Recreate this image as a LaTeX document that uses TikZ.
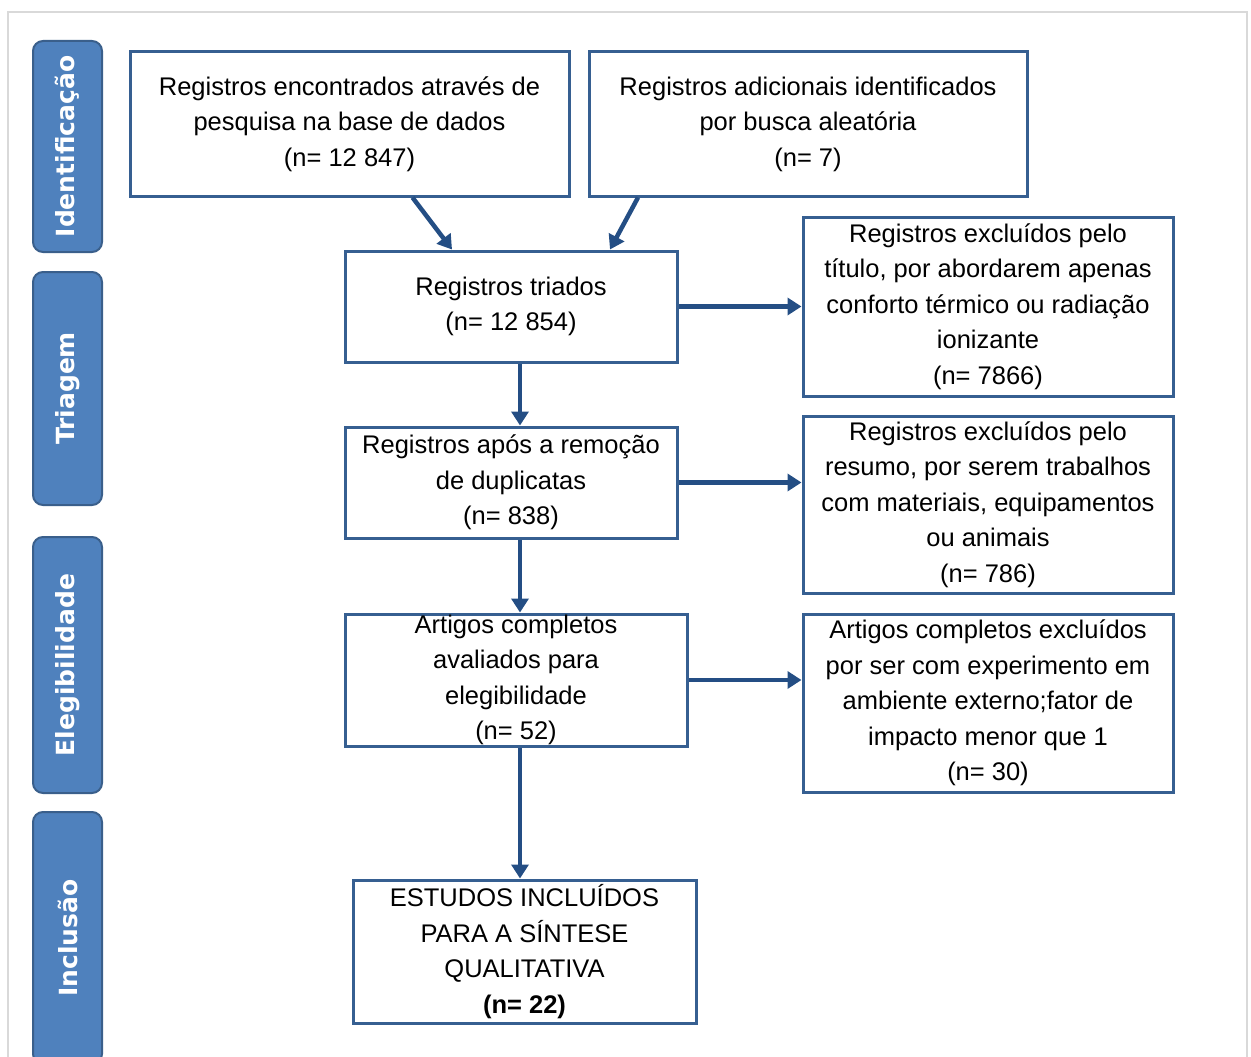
\documentclass[tikz,border=0pt]{standalone}
\usepackage{fontspec}
\setmainfont{Liberation Sans}
\newfontfamily\barfont{DejaVu Sans}
\usetikzlibrary{arrows.meta}

\definecolor{barblue}{RGB}{79,129,189}
\definecolor{bardark}{RGB}{58,95,139}
\definecolor{boxblue}{RGB}{54,95,145}
\definecolor{arrowblue}{RGB}{36,78,132}
\definecolor{framegray}{RGB}{217,217,217}

\begin{document}
\begin{tikzpicture}[x=1pt, y=-1pt,
    phase/.style={draw=bardark, fill=barblue, line width=2pt, rounded corners=10pt, rotate=90, minimum height=69pt, text=white, font=\barfont\bfseries\fontsize{25}{30}\selectfont},
    box/.style={draw=boxblue, line width=3pt, inner sep=0pt, align=center, font=\fontsize{25.5}{35.5}\selectfont},
    n/.style={-{Triangle[length=14pt, width=17pt]}, draw=arrowblue, line width=4.5pt}]
                \useasboundingbox (0,0) rectangle (1251,1057);
                \draw[framegray, line width=1.5pt] (8,12) rectangle (1247,1100);
                % phases
                \node[phase, minimum width=211pt] (ident) at (67.5,146.5) {Identificação};
                \node[phase, minimum width=233pt] (triag) at (67.5,388.5) {Triagem};
                \node[phase, minimum width=256pt] (eleg) at (67.5,665) {Elegibilidade};
                \node[phase, minimum width=252pt] (incl) at (67.5,938) {Inclusão};
                % nodes
                \node[box, minimum width=439pt, minimum height=144pt] (base) at (349.5,124) {Registros encontrados através de\\pesquisa na base de dados\\(n= 12 847)};
                \node[box, minimum width=438pt, minimum height=144pt] (adic) at (808,124) {Registros adicionais identificados\\por busca aleatória\\(n= 7)};
                \node[box, minimum width=332pt, minimum height=111pt] (triados) at (511,306.5) {Registros triados\\(n= 12 854)};
                \node[box, minimum width=332pt, minimum height=111pt] (dupl) at (511,482.5) {Registros após a remoção\\de duplicatas\\(n= 838)};
                \node[box, minimum width=342pt, minimum height=132pt] (artigos) at (516,680) {Artigos completos\\avaliados para\\elegibilidade\\(n= 52)};
                \node[box, minimum width=343pt, minimum height=143pt] (incluidos) at (524.5,951.5) {ESTUDOS INCLUÍDOS\\PARA A SÍNTESE\\QUALITATIVA\\\textbf{(n= 22)}};
                \node[box, minimum width=370pt, minimum height=179pt] (exc1) at (988,306.5) {Registros excluídos pelo\\título, por abordarem apenas\\conforto térmico ou radiação\\ionizante\\(n= 7866)};
                \node[box, minimum width=370pt, minimum height=177pt] (exc2) at (988,504.5) {Registros excluídos pelo\\resumo, por serem trabalhos\\com materiais, equipamentos\\ou animais\\(n= 786)};
                \node[box, minimum width=370pt, minimum height=178pt] (exc3) at (988,703) {Artigos completos excluídos\\por ser com experimento em\\ambiente externo;fator de\\impacto menor que 1\\(n= 30)};
                % edges
                \draw[n] ([xshift=63pt]base.south) -- ([xshift=-59pt]triados.north);
                \draw[n] ([xshift=-170pt]adic.south) -- ([xshift=99pt]triados.north);
                \draw[n] ([xshift=9pt]triados.south) -- ([xshift=9pt]dupl.north);
                \draw[n] ([xshift=9pt]dupl.south) -- ([xshift=4pt]artigos.north);
                \draw[n] ([xshift=4pt]artigos.south) -- ([xshift=-4.5pt]incluidos.north);
                \draw[n] (triados.east) -- (exc1.west);
                \draw[n] (dupl.east) -- (dupl.east -| exc2.west);
                \draw[n] (artigos.east) -- (artigos.east -| exc3.west);
            \end{tikzpicture}
\end{document}
